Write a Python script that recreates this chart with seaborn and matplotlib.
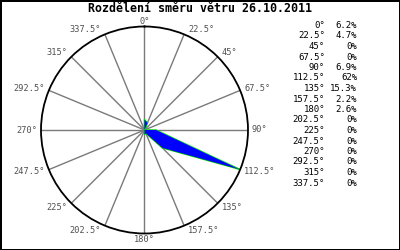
import numpy as np
import matplotlib
matplotlib.use("Agg")
import matplotlib.pyplot as plt
import seaborn as sns

sns.set_style("white")
plt.rcParams['font.family'] = ['DejaVu Sans Mono', 'DejaVu Sans']

directions = [0, 22.5, 45, 67.5, 90, 112.5, 135, 157.5, 180, 202.5, 225, 247.5, 270, 292.5, 315, 337.5]
dir_labels = ["0°", "22.5°", "45°", "67.5°", "90°", "112.5°", "135°", "157.5°",
              "180°", "202.5°", "225°", "247.5°", "270°", "292.5°", "315°", "337.5°"]
percent = [6.2, 4.7, 0, 0, 6.9, 62, 15.3, 2.2, 2.6, 0, 0, 0, 0, 0, 0, 0]
percent_labels = ["6.2%", "4.7%", "0%", "0%", "6.9%", "62%", "15.3%", "2.2%",
                  "2.6%", "0%", "0%", "0%", "0%", "0%", "0%", "0%"]
title = "Rozdělení směru větru 26.10.2011"

fig = plt.figure(figsize=(4, 2.5), dpi=100)
fig.patch.set_facecolor("white")

ax = fig.add_axes([0.1025, 0.066, 0.5175, 0.828], projection="polar")
ax.set_theta_zero_location("N")
ax.set_theta_direction(-1)
rmax = 62.5
ax.set_ylim(0, rmax)
ax.grid(False)
ax.set_xticks([])
ax.set_yticks([])
ax.spines['polar'].set_color("black")
ax.spines['polar'].set_linewidth(1.3)
ax.set_facecolor("white")

theta = np.deg2rad(directions)
# spokes
for t in theta:
    ax.plot([t, t], [0, rmax], color="#7a7a7a", lw=1.0, zorder=1)

# polygon
th_closed = np.append(theta, theta[0])
p_closed = np.append(percent, percent[0])
ax.plot(th_closed, p_closed, color="#00dd00", lw=1.0, zorder=2)
ax.fill(th_closed, p_closed, color="#0000ff", lw=0, zorder=3)

# angle labels
px2pt = 72 / 100
for t, lab in zip(theta, dir_labels):
    s, c = np.sin(t), np.cos(t)
    if s > 0.05:
        ha = "left"
    elif s < -0.05:
        ha = "right"
    else:
        ha = "center"
    dx = 4 * np.sign(s) if abs(s) > 0.05 else 0
    dy = c * 5.5
    ax.annotate(lab, xy=(t, rmax), xytext=(dx * px2pt, dy * px2pt),
                textcoords="offset points", ha=ha, va="center",
                fontsize=6.2, color="#505050", annotation_clip=False)

# title
fig.text(0.5, 1 - 9 / 250, title, ha="center", va="center", fontsize=8.4,
         fontweight="bold", color="black")

# right-side table
y0 = 25.5
step = 10.5
for i, (lab, pl) in enumerate(zip(dir_labels, percent_labels)):
    y = 1 - (y0 + i * step) / 250
    fig.text(325 / 400, y, lab, ha="right", va="center", fontsize=6.5, color="black")
    fig.text(357 / 400, y, pl, ha="right", va="center", fontsize=6.5, color="black")

fig.patch.set_edgecolor("black")
fig.patch.set_linewidth(2)
fig.savefig("out.png", dpi=100, facecolor="white", edgecolor="black")
